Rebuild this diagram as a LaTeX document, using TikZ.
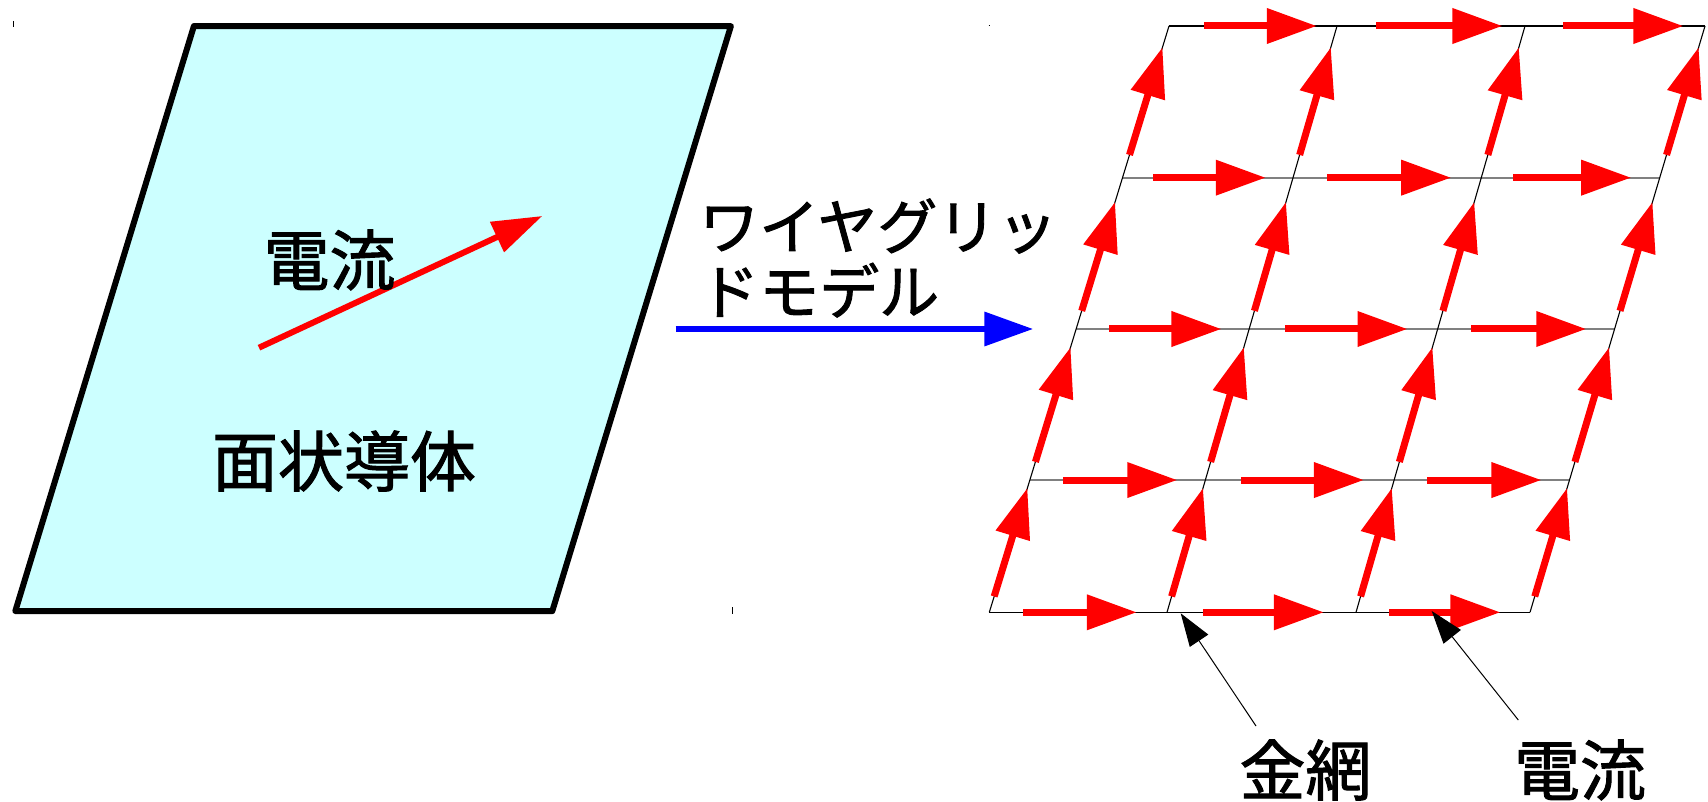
\documentclass[tikz,border=0pt]{standalone}
\usepackage{fontspec}
\newfontfamily\jp{Noto Sans CJK JP}[FakeBold=1.5]
\usetikzlibrary{arrows.meta,calc}
\begin{document}
\begin{tikzpicture}[x=1pt,y=-1pt,
  plate/.style={draw=black, line width=6pt, fill={rgb,255:red,204;green,255;blue,255}, line join=round},
  cur/.style={draw=red, line width=7pt, -{Triangle[length=50pt,width=34pt]}},
  bigcur/.style={draw=red, line width=6pt, -{Triangle[length=50pt,width=32pt]}},
  model/.style={draw={rgb,255:red,0;green,0;blue,255}, line width=6.7pt, -{Triangle[length=49pt,width=33pt]}},
  callout/.style={draw=black, line width=1pt, -{Triangle[length=33pt,width=22pt]}},
  edge/.style={draw=black, line width=1.6pt},
  midline/.style={draw=gray, line width=2pt},
  slant/.style={draw=black, line width=1.1pt},
  lbl/.style={inner sep=0pt, font=\jp\fontsize{66pt}{70pt}\selectfont},
  kata/.style={inner sep=0pt, font=\jp\fontsize{60pt}{64pt}\selectfont},
  tick/.style={draw=black, line width=1pt}
]
\useasboundingbox (0,0) rectangle (1708,802);

% --- left: planar conductor ---
\draw[plate] (193.9,26.1) -- (730.9,26.1) -- (552.3,611.1) -- (15.3,611.1) -- cycle;
\coordinate (ia) at (259,347.7);
\coordinate (ib) at (542.3,216);
\draw[bigcur] (ia) -- (ib);
\node[lbl] (dl) at (329.5,260) {電流};
\node[lbl] (men) at (344,461) {面状導体};

% small marks
\draw[tick] (13,21) -- (13,27);
\draw[tick] (732,607) -- (732,614);
\draw[tick] (988.5,26) -- (990,26);

% --- middle: transformation arrow ---
\coordinate (ba) at (675.5,329);
\coordinate (bb) at (1033.3,329);
\draw[model] (ba) -- (bb);
\node[kata, anchor=base west] (w1) at (699,249) {ワイヤグリッ};
\node[kata, anchor=base west] (w2) at (699,314) {ドモデル};

% --- right: wire grid ---
\coordinate (t0) at (1169,26);   \coordinate (b0) at (989.3,612.3);
\coordinate (t1) at (1337,26);   \coordinate (b1) at (1167,612.3);
\coordinate (t2) at (1525,26);   \coordinate (b2) at (1356,612.3);
\coordinate (t3) at (1705,26);   \coordinate (b3) at (1530,612.3);
\foreach \j/\f in {0/0, 1/0.2587, 2/0.5168, 3/0.7744, 4/1} {
  \foreach \i in {0,...,3} {
    \coordinate (g-\i-\j) at ($(t\i)!\f!(b\i)$);
  }
}
\draw[edge] (g-0-0) -- (g-3-0);
\draw[edge] (g-0-4) -- (g-3-4);
\foreach \j in {1,2,3} { \draw[midline] (g-0-\j) -- (g-3-\j); }
\foreach \i in {0,...,3} { \draw[slant] (t\i) -- (b\i); }

% currents along horizontal wires
\foreach \j/\a/\b in {0/0.21/0.88, 1/0.18/0.84, 2/0.19/0.84, 3/0.19/0.84, 4/0.19/0.83} {
  \foreach \i/\k in {0/1,1/2,2/3} {
    \draw[cur] ($(g-\i-\j)!\a!(g-\k-\j)$) -- ($(g-\i-\j)!\b!(g-\k-\j)$);
  }
}
% currents along slanted wires
\foreach \i in {0,...,3} {
  \foreach \j/\k/\a/\b in {1/0/0.15/0.86, 2/1/0.12/0.84, 3/2/0.12/0.88, 4/3/0.12/0.94} {
    \draw[cur] ($(g-\i-\j)!\a!(g-\i-\k)$) -- ($(g-\i-\j)!\b!(g-\i-\k)$);
  }
}

% --- labels with callouts ---
\node[lbl] (kanaami) at (1305.5,770) {金網};
\node[lbl] (denryu) at (1580,770) {電流};
\coordinate (c1t) at (1256,726);
\coordinate (c1h) at (1180.7,613.3);
\coordinate (c2t) at (1518.3,720);
\coordinate (c2h) at (1431.7,611);
\draw[callout] (c1t) -- (c1h);
\draw[callout] (c2t) -- (c2h);
\end{tikzpicture}
\end{document}
